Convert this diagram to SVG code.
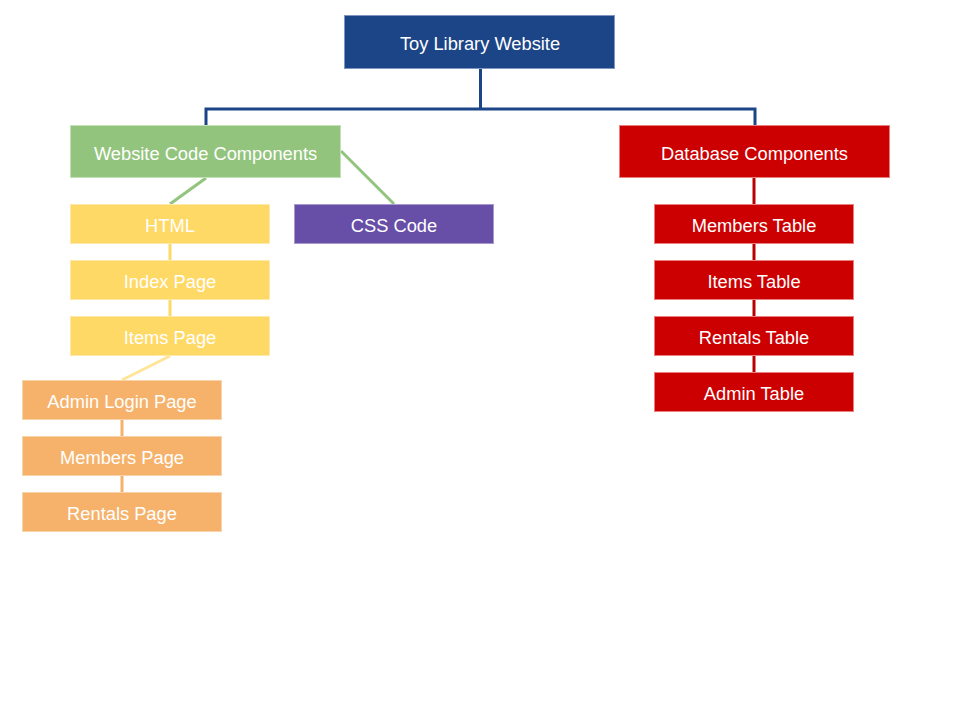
<svg xmlns="http://www.w3.org/2000/svg" width="960" height="720" viewBox="0 0 960 720">
<style>
text{font-family:"Liberation Sans",Arial,sans-serif;font-size:18.3px;fill:#ffffff;text-anchor:middle;dominant-baseline:central}
.blue{fill:#1c4587;stroke:#7f97c0;stroke-width:1}
.green{fill:#93c47d;stroke:#c3e0b6;stroke-width:1}
.red{fill:#cc0000;stroke:#e88080;stroke-width:1}
.yellow{fill:#ffd966;stroke:#ffe9a8;stroke-width:1}
.purple{fill:#674ea7;stroke:#a899cf;stroke-width:1}
.orange{fill:#f6b26b;stroke:#fad3a8;stroke-width:1}
.c{fill:none;stroke-width:3}
</style>
<rect width="960" height="720" fill="#ffffff"/>
<g id="connectors">
<path class="c" d="M480.5 69 V109 M206 125 V109 H755 V125" stroke="#1c4587"/>
<path class="c" d="M206 178 L170 204 M341 151 L394 204" stroke="#93c47d"/>
<path class="c" d="M170 244 V260 M170 300 V316" stroke="#ffd966"/>
<path class="c" d="M170 356 L122 380" stroke="#ffe599"/>
<path class="c" d="M122 420 V436 M122 476 V492" stroke="#f6b26b"/>
<path class="c" d="M754 178 V412" stroke="#b80000"/>
</g>
<g id="toy-library-website"><rect class="blue" x="344.5" y="15.5" width="270" height="53"/><text x="480" y="43.5">Toy Library Website</text></g>
<g id="website-code-components"><rect class="green" x="70.5" y="125.5" width="270" height="52"/><text x="205.5" y="153">Website Code Components</text></g>
<g id="database-components"><rect class="red" x="619.5" y="125.5" width="270" height="52"/><text x="754.5" y="153">Database Components</text></g>
<g id="html"><rect class="yellow" x="70.5" y="204.5" width="199" height="39"/><text x="170" y="225">HTML</text></g>
<g id="css-code"><rect class="purple" x="294.5" y="204.5" width="199" height="39"/><text x="394" y="225">CSS Code</text></g>
<g id="index-page"><rect class="yellow" x="70.5" y="260.5" width="199" height="39"/><text x="170" y="281">Index Page</text></g>
<g id="items-page"><rect class="yellow" x="70.5" y="316.5" width="199" height="39"/><text x="170" y="337">Items Page</text></g>
<g id="admin-login-page"><rect class="orange" x="22.5" y="380.5" width="199" height="39"/><text x="122" y="401">Admin Login Page</text></g>
<g id="members-page"><rect class="orange" x="22.5" y="436.5" width="199" height="39"/><text x="122" y="457">Members Page</text></g>
<g id="rentals-page"><rect class="orange" x="22.5" y="492.5" width="199" height="39"/><text x="122" y="513">Rentals Page</text></g>
<g id="members-table"><rect class="red" x="654.5" y="204.5" width="199" height="39"/><text x="754" y="225">Members Table</text></g>
<g id="items-table"><rect class="red" x="654.5" y="260.5" width="199" height="39"/><text x="754" y="281">Items Table</text></g>
<g id="rentals-table"><rect class="red" x="654.5" y="316.5" width="199" height="39"/><text x="754" y="337">Rentals Table</text></g>
<g id="admin-table"><rect class="red" x="654.5" y="372.5" width="199" height="39"/><text x="754" y="393">Admin Table</text></g>
</svg>
